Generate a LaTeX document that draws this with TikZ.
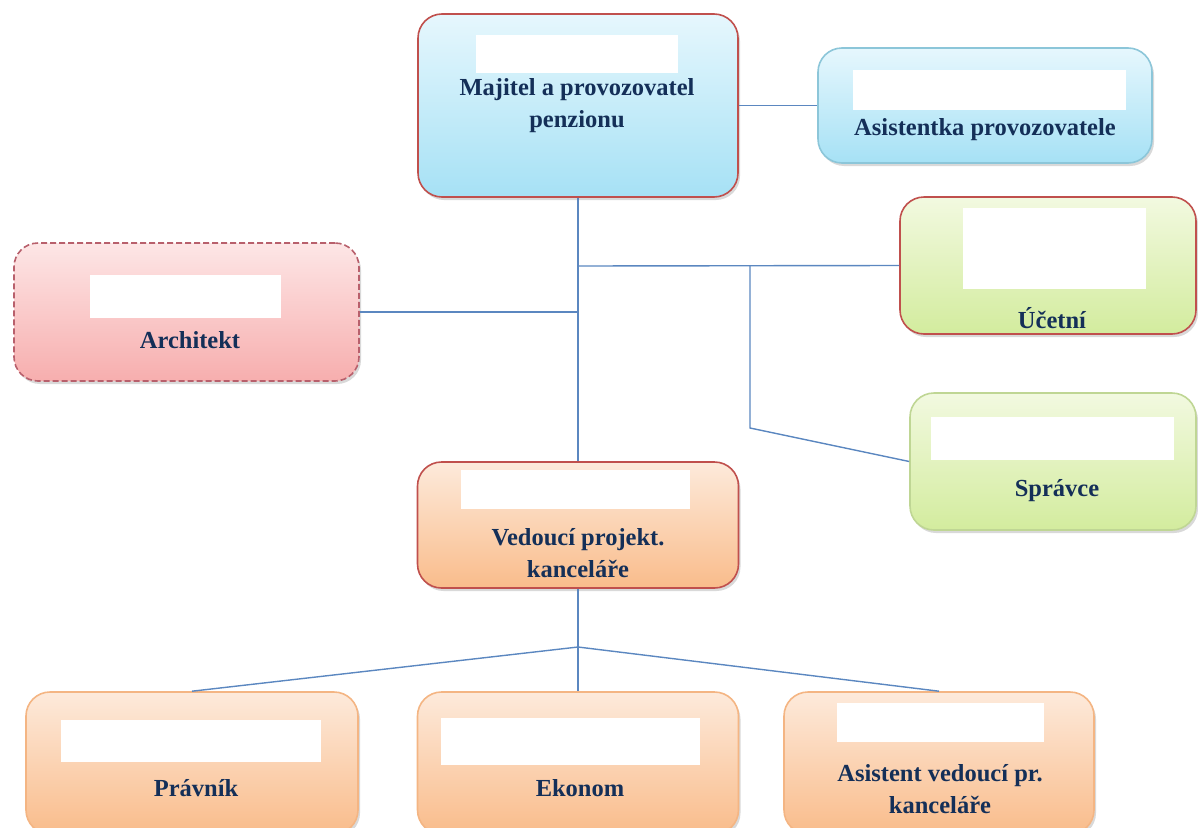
\documentclass[tikz,border=0pt]{standalone}
\usepackage{fontspec}
\setmainfont{Liberation Serif}
\usetikzlibrary{shadows}
\definecolor{navy}{HTML}{142F58}
\definecolor{redb}{HTML}{C0504D}
\definecolor{lineb}{HTML}{5B87C0}
\definecolor{blueT}{HTML}{E6F7FD}
\definecolor{blueB}{HTML}{A6E1F5}
\definecolor{blueD}{HTML}{8CC6D9}
\definecolor{greenT}{HTML}{F2F9E0}
\definecolor{greenB}{HTML}{D3EC9E}
\definecolor{greenD}{HTML}{BFD694}
\definecolor{pinkT}{HTML}{FDE6E6}
\definecolor{pinkB}{HTML}{F7AEAE}
\definecolor{pinkD}{HTML}{B8606C}
\definecolor{orT}{HTML}{FDEADB}
\definecolor{orB}{HTML}{F9BC8B}
\definecolor{orD}{HTML}{F4B583}
\tikzset{
  card/.style={rectangle, rounded corners=24pt, line width=1.6pt,
    drop shadow={shadow xshift=2pt, shadow yshift=-3pt, opacity=0.25, fill=black!60}},
  bluecard/.style={card, top color=blueT, bottom color=blueB},
  greencard/.style={card, top color=greenT, bottom color=greenB},
  pinkcard/.style={card, top color=pinkT, bottom color=pinkB, draw=pinkD, dash pattern=on 6pt off 3pt},
  orcard/.style={card, top color=orT, bottom color=orB},
  blank/.style={rectangle, fill=white, inner sep=0pt},
  lbl/.style={font=\fontsize{24.5}{32}\selectfont\bfseries, text=navy, align=center, inner sep=0pt},
  conn/.style={draw=lineb, line width=1.4pt}
}
\begin{document}
\begin{tikzpicture}[x=1pt,y=-1pt]
\useasboundingbox (0,0) rectangle (1198,827);
\clip (0,0) rectangle (1198,827);
% boxes
\node[bluecard, draw=redb, minimum width=320pt, minimum height=183pt] (maj) at (578,105.5) {};
\node[bluecard, draw=blueD, minimum width=334pt, minimum height=115pt] (asis) at (985,105.5) {};
\node[greencard, draw=redb, minimum width=296pt, minimum height=137pt] (ucet) at (1048,265.5) {};
\node[greencard, draw=greenD, minimum width=286pt, minimum height=137pt] (spr) at (1053,461.5) {};
\node[pinkcard, minimum width=345pt, minimum height=138pt] (arch) at (186.5,312) {};
\node[orcard, draw=redb, minimum width=321pt, minimum height=126pt] (ved) at (578,525) {};
\node[orcard, draw=orD, minimum width=332pt, minimum height=142pt] (prav) at (192,763) {};
\node[orcard, draw=orD, minimum width=321pt, minimum height=142pt] (eko) at (578,763) {};
\node[orcard, draw=orD, minimum width=310pt, minimum height=142pt] (asv) at (939,763) {};
% white fields
\node[blank, minimum width=202pt, minimum height=38pt] (majw) at (577,54) {};
\node[blank, minimum width=273pt, minimum height=40pt] (asisw) at (989.5,90) {};
\node[blank, minimum width=183pt, minimum height=81pt] (ucetw) at (1054.5,248.5) {};
\node[blank, minimum width=243pt, minimum height=43pt] (sprw) at (1052.5,438.5) {};
\node[blank, minimum width=191pt, minimum height=43pt] (archw) at (185.5,296.5) {};
\node[blank, minimum width=229pt, minimum height=39pt] (vedw) at (575.5,489.5) {};
\node[blank, minimum width=260pt, minimum height=42pt] (pravw) at (191,741) {};
\node[blank, minimum width=259pt, minimum height=47pt] (ekow) at (570.5,741.5) {};
\node[blank, minimum width=207pt, minimum height=39pt] (asvw) at (940.5,722.5) {};
% labels
\node[lbl] (majt) at (577,106) {Majitel a provozovatel\\penzionu};
\node[lbl] (asist) at (985,130) {Asistentka provozovatele};
\node[lbl] (ucett) at (1052,318) {Účetní};
\node[lbl] (sprt) at (1057,491) {Správce};
\node[lbl] (archt) at (190,340) {Architekt};
\node[lbl] (vedt) at (578,553) {Vedoucí projekt.\\kanceláře};
\node[lbl] (pravt) at (196,788) {Právník};
\node[lbl] (ekot) at (580,788) {Ekonom};
\node[lbl] (asvt) at (940,789) {Asistent vedoucí pr.\\kanceláře};
% connectors
\coordinate (j1) at (578,266);
\coordinate (j2) at (750,266);
\coordinate (j3) at (750,428);
\coordinate (j5) at (578,312);
\coordinate (j4) at (578,647);
\draw[conn] (maj.east) -- (asis.west);
\draw[conn] (maj.south) -- (ved.north);
\draw[conn] (j1) -- (ucet.west);
\draw[conn] (j2) -- (j3) -- (spr.west);
\draw[conn] (arch.east) -- (j5);
\draw[conn] (ved.south) -- (eko.north);
\draw[conn] (prav.north) -- (j4) -- (asv.north);
\end{tikzpicture}
\end{document}
